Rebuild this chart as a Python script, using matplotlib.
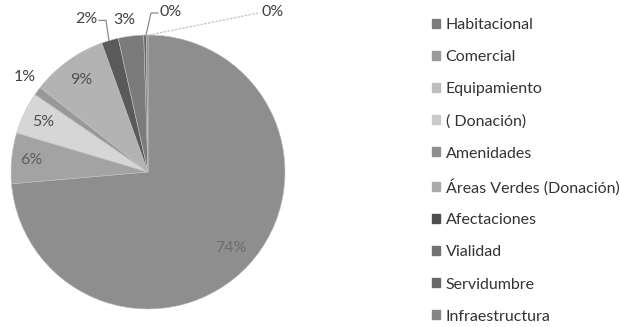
import matplotlib
matplotlib.use("Agg")
import matplotlib.pyplot as plt
import numpy as np

categories = ["Habitacional", "Comercial", "Equipamiento", "( Donación)", "Amenidades",
              "Áreas Verdes (Donación)", "Afectaciones", "Vialidad", "Servidumbre", "Infraestructura"]
values = [74, 6, 5, 0, 1, 9, 2, 3, 0.3, 0.2]
slice_colors = ["#8e8e8e", "#a3a3a3", "#d6d6d6", "#c8c8c8", "#989898",
                "#b3b3b3", "#5a5a5a", "#7b7b7b", "#6a6a6a", "#888888"]
legend_colors = ["#7c7c7c", "#9a9a9a", "#bdbdbd", "#cacaca", "#8f8f8f",
                 "#ababab", "#4e4e4e", "#727272", "#676767", "#858585"]
show_label = [True, True, True, False, True, True, True, True, True, True]

plt.rcParams['font.family'] = ['Lato', 'DejaVu Sans']

fig = plt.figure(figsize=(6.2, 3.27), dpi=100)
ax = fig.add_axes([0, 0, 1, 1])

cx, cy, R = 148, 155, 137
wedges, _ = ax.pie(values, colors=slice_colors, startangle=90, counterclock=False,
                   center=(cx, cy), radius=R, wedgeprops=dict(linewidth=0.4, edgecolor="#c0c0c0"),
                   frame=True)
ax.set_xlim(0, 620)
ax.set_ylim(0, 327)
ax.axis('off')

total = sum(values)
pcts = [f"{round(v / total * 100):d}%" for v in values]

# inside labels: radial factor; outside labels: pixel offset from wedge edge midpoint
inside = {0: (0.82, "#6e6e6e"), 1: (0.86, "#5e5e5e"), 2: (0.85, "#505050"), 5: (0.83, "#505050")}
outside = {4: ((-13, 14), None), 6: ((-24, 21), "elbow"), 7: ((-7, 16), None),
           8: ((26, 23), "elbow"), 9: ((125, 23), "straight")}
txtc = "#404040"
fs = 11.5
for i, w in enumerate(wedges):
    if not show_label[i]:
        continue
    mid = np.deg2rad((w.theta1 + w.theta2) / 2)
    ex, ey = cx + R * np.cos(mid), cy + R * np.sin(mid)
    if i in inside:
        f, col = inside[i]
        ax.text(cx + f * R * np.cos(mid), cy + f * R * np.sin(mid), pcts[i],
                ha='center', va='center', fontsize=fs, color=col)
        continue
    (dx, dy), leader = outside[i]
    tx, ty = ex + dx, ey + dy
    ax.text(tx, ty, pcts[i], ha='center', va='center', fontsize=fs, color=txtc)
    if leader == "elbow":
        side = 1 if dx > 0 else -1
        ax.plot([tx - side * 13, tx - side * 20, ex + side * 1], [ty - 1, ty - 1, ey],
                color="#8a8a8a", lw=0.9)
    elif leader == "straight":
        ax.plot([tx - 14, ex + 2], [ty - 1, ey], color="#c4c4c4", lw=0.9, ls=(0, (2, 1)))

handles = [plt.Rectangle((0, 0), 1, 1, color=c) for c in legend_colors]
leg = ax.legend(handles, categories, loc='upper left', bbox_to_anchor=(432, 309),
                bbox_transform=ax.transData, frameon=False, fontsize=fs,
                handlelength=0.5, handleheight=0.5, handletextpad=0.35,
                labelspacing=1.13, borderpad=0, borderaxespad=0)
for t in leg.get_texts():
    t.set_color("#333333")

fig.savefig("out.png", dpi=100)
